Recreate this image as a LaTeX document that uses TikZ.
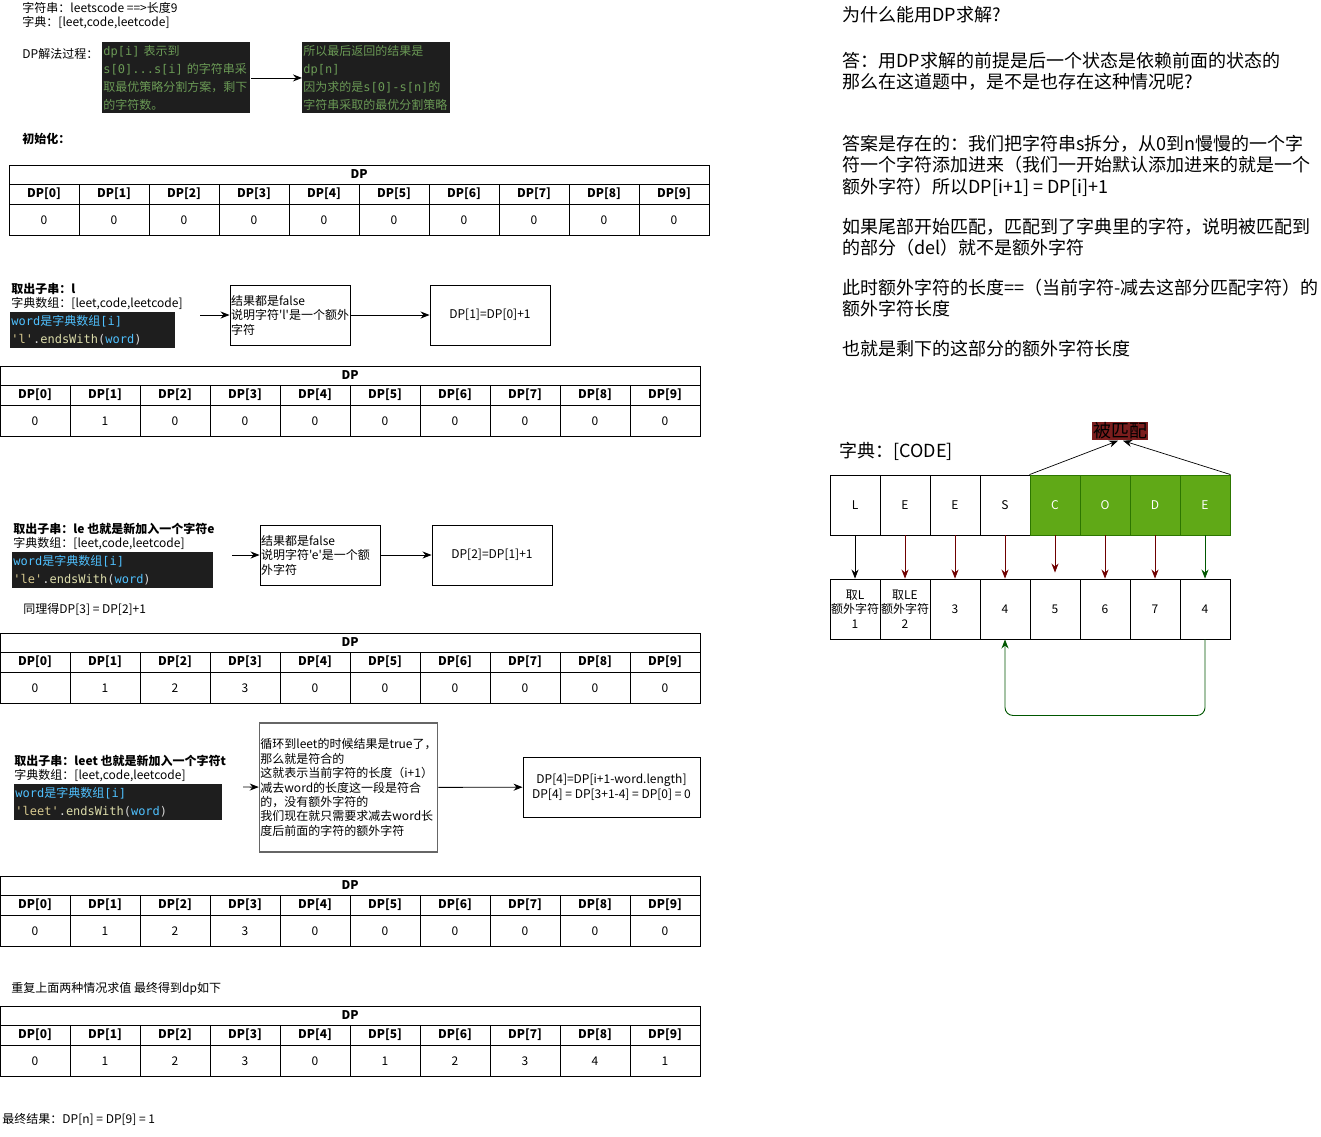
\documentclass[tikz,border=0pt]{standalone}
\usepackage{fontspec}
\usepackage{tikz}
\usetikzlibrary{arrows.meta,positioning}
\newfontfamily\cjk{Noto Sans CJK SC}
\newfontfamily\codefont{DejaVu Sans Mono}
\newcommand{\cd}[1]{{\codefont #1}}
\definecolor{codebg}{HTML}{1E1E1E}
\definecolor{cmt}{HTML}{6A9955}
\definecolor{var}{HTML}{4FC1FF}
\definecolor{strlit}{HTML}{D7C98F}
\definecolor{fn}{HTML}{DCDCAA}
\definecolor{punct}{HTML}{D4D4D4}
\definecolor{matched}{HTML}{60A917}
\definecolor{matchedline}{HTML}{2D7600}
\definecolor{darkred}{HTML}{6F0000}
\definecolor{darkgreen}{HTML}{005700}
\definecolor{tagred}{HTML}{7A1D1D}
% one DP table: name, left x, top y, values
\newcommand{\dptable}[4]{%
  \draw (#2,#3) rectangle ++(700,70);
  \draw (#2,#3+19) -- ++(700,0) (#2,#3+39) -- ++(700,0);
  \node[hd] (#1) at (#2+350,#3+9.5) {DP};
  \foreach \val [count=\idx from 0] in {#4} {
    \ifnum\idx>0 \draw (#2+70*\idx,#3+19) -- ++(0,51); \fi
    \node[hd] (#1h\idx) at (#2+35+70*\idx,#3+29) {DP[\idx]};
    \node (#1v\idx) at (#2+35+70*\idx,#3+55) {\val};
  }%
}
% one line of code: key string
\newcommand{\withline}[1]{\cd{\textcolor{strlit}{'#1'}\textcolor{punct}{.}\textcolor{fn}{endsWith}\textcolor{punct}{(}\textcolor{var}{word}\textcolor{punct}{)}}}
\newcommand{\wordline}{\textcolor{var}{\cd{word}是字典数组\cd{[i]}}}

\begin{document}
\begin{tikzpicture}[x=1pt,y=-1pt,line width=0.9pt,>={Stealth[length=9pt,width=7pt]},
  every node/.style={font=\cjk\fontsize{12}{14.5}\selectfont,inner sep=1pt},
  hd/.style={font=\cjk\bfseries\fontsize{12}{14.5}\selectfont},
  note/.style={anchor=west,inner sep=0pt},
  bold note/.style={note,font=\cjk\bfseries\fontsize{12}{14.5}\selectfont},
  big/.style={font=\cjk\fontsize{18}{21.5}\selectfont,align=left,anchor=west,inner sep=0pt},
  codebox/.style={fill=codebg,text width=#1,align=left,anchor=north west,
    font=\cjk\fontsize{12}{18}\selectfont,inner sep=1pt},
  box/.style={draw,minimum width=120pt,minimum height=60pt,align=left},
  cell/.style={draw,minimum width=50pt,minimum height=60pt,align=center,inner sep=0pt},
  tag/.style={fill=tagred,font=\cjk\fontsize{18}{20}\selectfont,inner sep=1pt}]
\fill[white] (0,0) rectangle (1321,1136);
\useasboundingbox (0,0) rectangle (1321,1136);

% intro
\node[note] (s) at (22,8) {字符串：leetscode ==>长度9};
\node[note] (dict) at (22,23) {字典：[leet,code,leetcode]};
\node[note] (proc) at (22,54) {DP解法过程：};
\node[codebox=146pt,text=cmt,minimum height=71pt] (def) at (102,42)
  {\cd{dp[i] }表示到\\\cd{s[0]...s[i] }的字符串采\\取最优策略分割方案，剩下\\的字符数。};
\node[codebox=146pt,text=cmt,minimum height=71pt] (res) at (302,42)
  {所以最后返回的结果是\\\cd{dp[n]}\\因为求的是\cd{s[0]-s[n]}的\\字符串采取的最优分割策略};
\draw[->] (def) -- (res);
\node[bold note] (init) at (22,139) {初始化：};
\dptable{tA}{9}{165}{0,0,0,0,0,0,0,0,0,0}

% substring l
\node[bold note] (sub1) at (11,289) {取出子串：l};
\node[note] (arr1) at (11,304) {字典数组：[leet,code,leetcode]};
\node[codebox=163pt,minimum height=36pt] (code1) at (10,312) {\wordline\\\withline{l}};
\coordinate (s1) at (200,315);
\node[box,text width=118pt] (chk1) at (290,315) {结果都是false\\说明字符'l'是一个额外\\字符};
\node[box] (eq1) at (490,315) {DP[1]=DP[0]+1};
\draw[->] (s1) -- (chk1);
\draw[->] (chk1) -- (eq1);
\dptable{tB}{0}{366}{0,1,0,0,0,0,0,0,0,0}

% substring le
\node[bold note] (sub2) at (13,529) {取出子串：le 也就是新加入一个字符e};
\node[note] (arr2) at (13,544) {字典数组：[leet,code,leetcode]};
\node[codebox=199pt,minimum height=36pt] (code2) at (12,552) {\wordline\\\withline{le}};
\coordinate (s2) at (232,555);
\node[box,text width=118pt] (chk2) at (320,555) {结果都是false\\说明字符'e'是一个额\\外字符};
\node[box] (eq2) at (492,555) {DP[2]=DP[1]+1};
\draw[->] (s2) -- (chk2);
\draw[->] (chk2) -- (eq2);
\node[note] (same) at (23,609) {同理得DP[3] = DP[2]+1};
\dptable{tC}{0}{633}{0,1,2,3,0,0,0,0,0,0}

% substring leet
\node[bold note] (sub3) at (14,761) {取出子串：leet 也就是新加入一个字符t};
\node[note] (arr3) at (14,776) {字典数组：[leet,code,leetcode]};
\node[codebox=206pt,minimum height=36pt] (code3) at (14,784) {\wordline\\\withline{leet}};
\coordinate (s3) at (243,787);
\node[box,draw=black!60,line width=1.3pt,minimum width=177pt,minimum height=129pt,
  font=\cjk\fontsize{12}{14.4}\selectfont] (chk3) at (348.5,787.5)
  {循环到leet的时候结果是true了，\\那么就是符合的\\这就表示当前字符的长度（i+1）\\减去word的长度这一段是符合\\的，没有额外字符的\\我们现在就只需要求减去word长\\度后前面的字符的额外字符};
\node[box,minimum width=177pt,align=center] (eq3) at (611.5,787)
  {DP[4]=DP[i+1-word.length]\\DP[4] = DP[3+1-4] = DP[0] = 0};
\draw[->] (s3) -- (chk3);
\draw[->] (chk3) -- (eq3);
\dptable{tD}{0}{876}{0,1,2,3,0,0,0,0,0,0}

\node[note] (rep) at (11,989) {重复上面两种情况求值 最终得到dp如下};
\dptable{tE}{0}{1006}{0,1,2,3,0,1,2,3,4,1}
\node[note] (final) at (2,1119) {最终结果：DP[n] = DP[9] = 1};

% why DP
\node[big] (q) at (842,15) {为什么能用DP求解?};
\node[big] (a1) at (842,71.5) {答：用DP求解的前提是后一个状态是依赖前面的状态的\\那么在这道题中，是不是也存在这种情况呢?};
\node[big] (a2) at (842,165.5) {答案是存在的：我们把字符串s拆分，从0到n慢慢的一个字\\符一个字符添加进来（我们一开始默认添加进来的就是一个\\额外字符）所以DP[i+1] = DP[i]+1};
\node[big] (a3) at (842,237) {如果尾部开始匹配，匹配到了字典里的字符，说明被匹配到\\的部分（del）就不是额外字符};
\node[big] (a4) at (842,298) {此时额外字符的长度==（当前字符-减去这部分匹配字符）的\\额外字符长度};
\node[big] (a5) at (842,349) {也就是剩下的这部分的额外字符长度};

% example CODE
\node[big] (code) at (839,451) {字典：[CODE]};
\node[tag] (lbl) at (1120,431) {被匹配};
\foreach \ch [count=\i] in {L,E,E,S}
  \node[cell] (t\i) at (805+50*\i,505) {\ch};
\foreach \ch [count=\i from 5] in {C,O,D,E}
  \node[cell,fill=matched,draw=matchedline,text=white] (t\i) at (805+50*\i,505) {\ch};
\foreach \n [count=\i] in {{取L\\额外字符\\1},{取LE\\额外字符\\2},3,4,5,6,7,4}
  \node[cell] (b\i) at (805+50*\i,609) {\n};
\draw[->,line width=0.7pt] (t5.north west) -- ([xshift=-2pt]lbl.south);
\draw[->,line width=0.7pt] (t8.north east) -- ([xshift=3pt]lbl.south);
\draw[->] (t1) -- (b1);
\foreach \i in {2,3,4,6,7}
  \draw[->,darkred] (t\i) -- (b\i);
\draw[->,darkred,shorten >=6pt] (t5) -- (b5);
\draw[->,darkgreen] (t8) -- (b8);
\draw[->,darkgreen,rounded corners=8pt] (b8.south) -- ++(0,76) -| (b4.south);
\end{tikzpicture}
\end{document}
